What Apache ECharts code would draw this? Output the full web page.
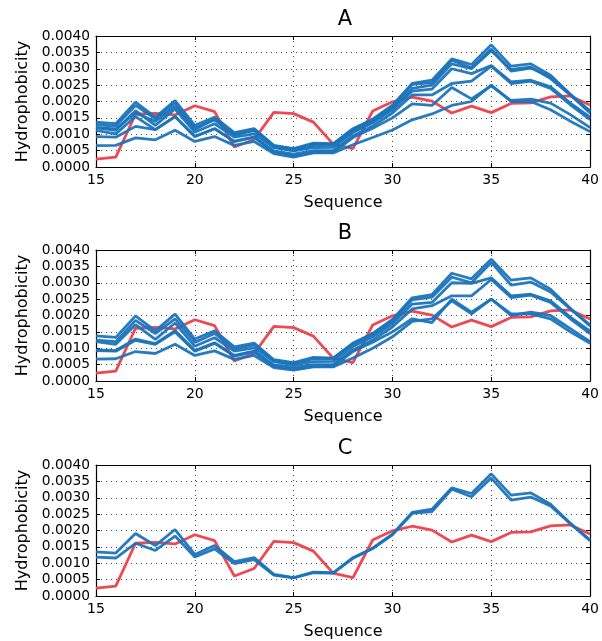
<!DOCTYPE html>
<html>
<head>
<meta charset="utf-8">
<script src="https://cdn.jsdelivr.net/npm/echarts@6/dist/echarts.min.js"></script>
<style>
  html, body { margin: 0; padding: 0; background: #fff; }
  #chart { width: 602px; height: 641px; }
</style>
</head>
<body>
<div id="chart"></div>
<script>
// sequence positions
var seqPos = [15, 16, 17, 18, 19, 20, 21, 22, 23, 24, 25, 26, 27, 28, 29, 30, 31, 32, 33, 34, 35, 36, 37, 38, 39, 40];
var yTicks = [0, 0.0005, 0.001, 0.0015, 0.002, 0.0025, 0.003, 0.0035, 0.004];
var panelNames = ['A', 'B', 'C'];

// red reference line (same in every panel)
var redLine = [0.00024, 0.0003, 0.00161, 0.00164, 0.00159, 0.00187, 0.00169, 0.00061, 0.00084, 0.00167, 0.00163, 0.00137, 0.0007,
    0.00056, 0.00171, 0.00199, 0.00213, 0.00201, 0.00165, 0.00186, 0.00166, 0.00194, 0.00196, 0.00214, 0.00217, 0.00189];

// panel A
var a1 = [0.00137, 0.00132, 0.00198, 0.00152, 0.00203, 0.00127, 0.00152, 0.00105, 0.00117, 0.00066, 0.00056, 0.00073, 0.00071,
    0.00117, 0.00146, 0.00189, 0.00255, 0.00265, 0.0033, 0.00313, 0.00373, 0.00308, 0.00315, 0.0028, 0.00222, 0.00171];
var a2 = [0.0012, 0.00116, 0.00165, 0.00139, 0.00185, 0.00119, 0.00144, 0.00099, 0.00111, 0.00064, 0.00055, 0.0007, 0.0007,
    0.00115, 0.00143, 0.00185, 0.00252, 0.00258, 0.00326, 0.00303, 0.0036, 0.00293, 0.00302, 0.00275, 0.00221, 0.00169];
var a3 = [0.00129, 0.00125, 0.00188, 0.00147, 0.00195, 0.00114, 0.00147, 0.00098, 0.00114, 0.00062, 0.0005, 0.00066, 0.00066,
    0.0011, 0.0014, 0.0018, 0.0024, 0.0025, 0.00315, 0.003, 0.00355, 0.00298, 0.00305, 0.0027, 0.0022, 0.00165];
var a4 = [0.0012, 0.00112, 0.00172, 0.00127, 0.00177, 0.00106, 0.00132, 0.00091, 0.00101, 0.00059, 0.00049, 0.00059, 0.0006,
    0.00105, 0.00135, 0.00175, 0.00232, 0.00238, 0.003, 0.00285, 0.0031, 0.0026, 0.00265, 0.00245, 0.00195, 0.00152];
var a5 = [0.00112, 0.00101, 0.00154, 0.00114, 0.00154, 0.00093, 0.00117, 0.00078, 0.00091, 0.00049, 0.00039, 0.0005, 0.0005,
    0.00095, 0.00125, 0.00165, 0.0022, 0.0022, 0.00255, 0.00262, 0.00308, 0.00255, 0.00262, 0.0024, 0.0019, 0.00145];
var a6 = [0.00093, 0.00091, 0.00124, 0.00114, 0.00154, 0.00093, 0.00117, 0.00078, 0.00091, 0.00045, 0.00035, 0.00045, 0.00045,
    0.0009, 0.00118, 0.0015, 0.00193, 0.00188, 0.00243, 0.00208, 0.00248, 0.00203, 0.00207, 0.00195, 0.0016, 0.0012];
var a7 = [0.00065, 0.00066, 0.00089, 0.00083, 0.00112, 0.00078, 0.00093, 0.00066, 0.00078, 0.00041, 0.0003, 0.00043, 0.00043,
    0.00068, 0.0009, 0.00113, 0.00144, 0.00162, 0.00188, 0.002, 0.0025, 0.002, 0.002, 0.00175, 0.0014, 0.00108];

// panel B
var b1 = [0.00138, 0.00133, 0.00199, 0.00153, 0.00204, 0.00128, 0.00153, 0.00104, 0.00116, 0.00065, 0.00056, 0.00072, 0.0007,
    0.00116, 0.00145, 0.00188, 0.00254, 0.00264, 0.00329, 0.00312, 0.00372, 0.00308, 0.00315, 0.0028, 0.00222, 0.00171];
var b2 = [0.00125, 0.0012, 0.00185, 0.00145, 0.0019, 0.00118, 0.00145, 0.00097, 0.0011, 0.00062, 0.00052, 0.00068, 0.00068,
    0.00113, 0.00142, 0.00183, 0.00248, 0.00256, 0.00317, 0.003, 0.00362, 0.00293, 0.00302, 0.00272, 0.0022, 0.00168];
var b3 = [0.0012, 0.00112, 0.00172, 0.00127, 0.00177, 0.00106, 0.00132, 0.00091, 0.00101, 0.00059, 0.00049, 0.00059, 0.0006,
    0.00105, 0.00135, 0.00175, 0.00235, 0.0024, 0.003, 0.00298, 0.00315, 0.0026, 0.00265, 0.00245, 0.00195, 0.00152];
var b4 = [0.00095, 0.00093, 0.00128, 0.00114, 0.00154, 0.00093, 0.00117, 0.00078, 0.00091, 0.00049, 0.00042, 0.0005, 0.0005,
    0.00095, 0.00125, 0.00165, 0.0022, 0.0023, 0.0026, 0.0026, 0.0031, 0.00255, 0.00262, 0.0024, 0.0019, 0.00145];
var b5 = [0.00093, 0.00091, 0.00124, 0.00112, 0.0015, 0.00091, 0.00115, 0.00076, 0.00089, 0.00045, 0.00037, 0.00045, 0.00045,
    0.0009, 0.00118, 0.0015, 0.0019, 0.00178, 0.0025, 0.0021, 0.0025, 0.002, 0.0021, 0.002, 0.0016, 0.0012];
var b6 = [0.00067, 0.00068, 0.0009, 0.00084, 0.00112, 0.00078, 0.00092, 0.00066, 0.00078, 0.00041, 0.00033, 0.00043, 0.00043,
    0.0007, 0.001, 0.00135, 0.00182, 0.0019, 0.00245, 0.00205, 0.0025, 0.00205, 0.00205, 0.0019, 0.0015, 0.00115];

// panel C
var c1 = [0.00135, 0.00131, 0.00191, 0.00154, 0.00203, 0.00127, 0.00154, 0.00105, 0.00117, 0.00066, 0.00056, 0.00073, 0.00071,
    0.00117, 0.00146, 0.00189, 0.00255, 0.00265, 0.0033, 0.00313, 0.00373, 0.00308, 0.00315, 0.0028, 0.00222, 0.00171];
var c2 = [0.00119, 0.00116, 0.00161, 0.00139, 0.00183, 0.00119, 0.00144, 0.00099, 0.00111, 0.00064, 0.00055, 0.00071, 0.0007,
    0.00115, 0.00145, 0.00187, 0.00252, 0.00258, 0.00326, 0.00303, 0.0036, 0.00293, 0.00302, 0.00275, 0.00221, 0.00169];

var panelLines = [[a1, a2, a3, a4, a5, a6, a7], [b1, b2, b3, b4, b5, b6], [c1, c2]];

(function () {
    var myChart = echarts.init(document.getElementById('chart'));

    var blue = '#1b74bb';
    var red = '#ee4953';
    var font = 'DejaVu Sans';
    var gridTops = [36, 250, 465];

    function toPoints(vals) {
        var out = [];
        for (var i = 0; i < seqPos.length; i++) {
            out.push([seqPos[i], vals[i]]);
        }
        return out;
    }

    var grids = [], xAxes = [], yAxes = [], series = [], texts = [];

    for (var g = 0; g < 3; g++) {
        grids.push({ left: 96, top: gridTops[g], width: 498, height: 131, containLabel: false });

        // bottom axis with labels
        xAxes.push({
            gridIndex: g, type: 'value', min: 15, max: 40, interval: 5, position: 'bottom',
            name: 'Sequence', nameLocation: 'middle', nameGap: 28,
            nameTextStyle: { fontFamily: font, fontSize: 16, color: '#000' },
            axisLine: { onZero: false, lineStyle: { color: '#000', width: 1.2 } },
            axisTick: { inside: true, length: 4, lineStyle: { color: '#000' } },
            axisLabel: { margin: 6, fontFamily: font, fontSize: 14, color: '#000' },
            splitLine: { show: true, lineStyle: { color: '#444', width: 1, type: [1, 4] } }
        });
        // top axis, frame only
        xAxes.push({
            gridIndex: g, type: 'value', min: 15, max: 40, interval: 5, position: 'top',
            axisLine: { onZero: false, lineStyle: { color: '#000', width: 1.2 } },
            axisTick: { inside: true, length: 4, lineStyle: { color: '#000' } },
            axisLabel: { show: false },
            splitLine: { show: false }
        });

        yAxes.push({
            gridIndex: g, type: 'value', min: yTicks[0], max: yTicks[yTicks.length - 1], interval: 0.0005, position: 'left',
            name: 'Hydrophobicity', nameLocation: 'middle', nameGap: 58, nameRotate: 90,
            nameTextStyle: { fontFamily: font, fontSize: 16, color: '#000' },
            axisLine: { onZero: false, lineStyle: { color: '#000', width: 1.2 } },
            axisTick: { inside: true, length: 4, lineStyle: { color: '#000' } },
            axisLabel: {
                margin: 6, fontFamily: font, fontSize: 13.8, color: '#000',
                formatter: function (v) { return v.toFixed(4); }
            },
            splitLine: { show: true, lineStyle: { color: '#444', width: 1, type: [1, 4] } }
        });
        yAxes.push({
            gridIndex: g, type: 'value', min: yTicks[0], max: yTicks[yTicks.length - 1], interval: 0.0005, position: 'right',
            axisLine: { onZero: false, lineStyle: { color: '#000', width: 1.2 } },
            axisTick: { inside: true, length: 4, lineStyle: { color: '#000' } },
            axisLabel: { show: false },
            splitLine: { show: false }
        });

        // red line first, blue lines over it
        series.push({
            type: 'line', xAxisIndex: g * 2, yAxisIndex: g * 2, data: toPoints(redLine),
            symbol: 'none', lineStyle: { color: red, width: 2.8 }, z: 2
        });
        panelLines[g].forEach(function (vals) {
            series.push({
                type: 'line', xAxisIndex: g * 2, yAxisIndex: g * 2, data: toPoints(vals),
                symbol: 'none', lineStyle: { color: blue, width: 2.8, opacity: 0.95 }, z: 3
            });
        });

        texts.push({
            type: 'text', x: 345, y: gridTops[g] - 16,
            style: { text: panelNames[g], align: 'center', verticalAlign: 'middle', fontFamily: font, fontSize: 21, fill: '#000' }
        });
    }

    var option = {
        animation: false,
        backgroundColor: '#fff',
        grid: grids,
        xAxis: xAxes,
        yAxis: yAxes,
        series: series,
        graphic: texts
    };

    myChart.setOption(option);
})();
</script>
</body>
</html>
